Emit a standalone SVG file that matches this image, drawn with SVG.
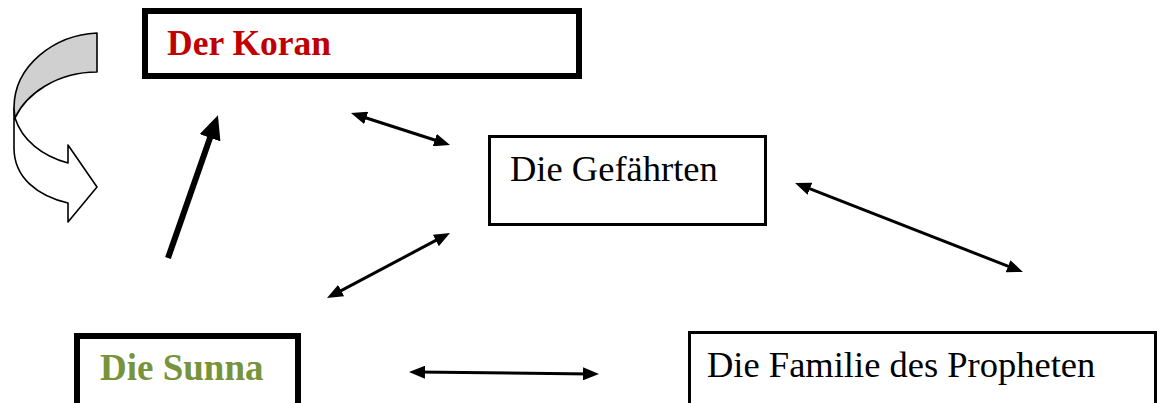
<svg xmlns="http://www.w3.org/2000/svg" width="1160" height="403" viewBox="0 0 1160 403">
  <style>
    .box { fill: #ffffff; stroke: #000000; }
    .thick { stroke-width: 6; }
    .thin { stroke-width: 3; }
    .lbl { font-family: "Liberation Serif", "DejaVu Serif", serif; font-size: 36.5px; fill: #000000; }
    .bold { font-weight: bold; }
    .conn { fill: none; stroke: #000000; stroke-width: 3; }
    .conn-thick { fill: none; stroke: #000000; stroke-width: 6; }
    .curve { stroke: #000000; stroke-width: 1.6; stroke-linejoin: round; }
  </style>
  <defs>
    <marker id="head" markerUnits="userSpaceOnUse" viewBox="0 0 16 13" refX="8" refY="6.5" markerWidth="16" markerHeight="13" orient="auto-start-reverse">
      <path d="M0,0 L16,6.5 L0,13 Z" fill="#000000"/>
    </marker>
    <marker id="headBig" markerUnits="userSpaceOnUse" viewBox="0 0 24 22" refX="12" refY="11" markerWidth="24" markerHeight="22" orient="auto">
      <path d="M0,0 L24,11 L0,22 Z" fill="#000000"/>
    </marker>
  </defs>

  <g id="curved-arrow">
    <path class="curve" fill="#ffffff" d="M14,108 L14,148 C14,178 38,196 68,203 L68,222 L97,187 L68,145 L68,163 C42,156 22,140 15,118 Z"/>
    <path class="curve" fill="#d0d0d0" d="M97,33 C55,35 14,65 14,108 L15,118 C26,94 57,72 97,72 Z"/>
  </g>

  <g id="node-koran">
    <rect class="box thick" x="145" y="11" width="434" height="65"/>
    <text class="lbl bold" x="167" y="55" style="fill:#c00000;font-size:35.5px">Der Koran</text>
  </g>

  <g id="node-gefaehrten">
    <rect class="box thin" x="489.5" y="136.5" width="276" height="88"/>
    <text class="lbl" x="510" y="181">Die Gefährten</text>
  </g>

  <g id="node-sunna">
    <rect class="box thick" x="77" y="336" width="221" height="80"/>
    <text class="lbl bold" x="100" y="380" style="fill:#77933c;font-size:37px">Die Sunna</text>
  </g>

  <g id="node-familie">
    <rect class="box thin" x="689.5" y="332.5" width="466" height="80"/>
    <text class="lbl" x="707" y="377">Die Familie des Propheten</text>
  </g>

  <g id="connectors">
    <line class="conn-thick" x1="168" y1="258" x2="214" y2="126.5" marker-end="url(#headBig)"/>
    <line class="conn" x1="358.6" y1="115.5" x2="442.4" y2="142.5" marker-start="url(#head)" marker-end="url(#head)"/>
    <line class="conn" x1="334.1" y1="294.3" x2="442.9" y2="236.7" marker-start="url(#head)" marker-end="url(#head)"/>
    <line class="conn" x1="802.5" y1="185.9" x2="1015.5" y2="269.1" marker-start="url(#head)" marker-end="url(#head)"/>
    <line class="conn" x1="417" y1="372.1" x2="591" y2="373.9" marker-start="url(#head)" marker-end="url(#head)"/>
  </g>
</svg>
